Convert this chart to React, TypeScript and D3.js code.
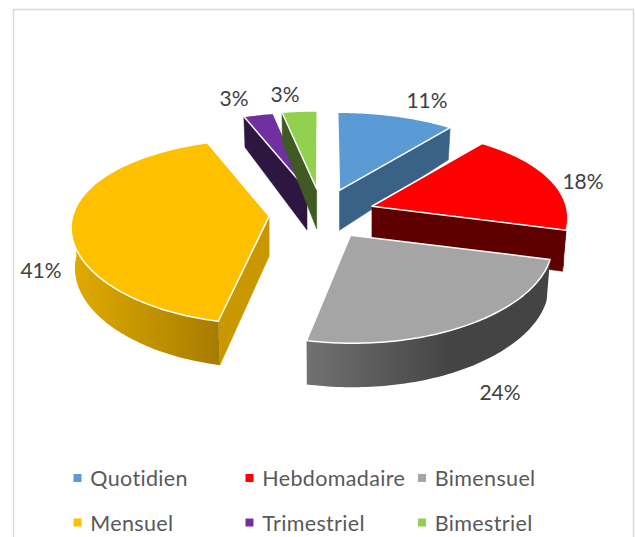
import React from "react";
import * as d3 from "d3";

const categories = ["Quotidien", "Hebdomadaire", "Bimensuel", "Mensuel", "Trimestriel", "Bimestriel"];
const values = [11, 18, 24.4, 40.5, 2.8, 3.3];
const topColors = ["#5b9bd5", "#ff0000", "#a5a5a5", "#ffc000", "#7030a0", "#92d050"];
const wallColors = ["#3a6186", "#5f0000", "#444444", "#c99700", "#2d1640", "#3f5a22"];
const paintOrder = [4, 5, 0, 3, 1, 2];
const labelAnchors = [[427, 99], [583, 180], [500, 391], [41, 269], [234, 97], [285, 93]];
const legendCols = [73.5, 245.5, 418];
const legendRows = [478, 522.5];

const W = 635, H = 537;
const CX = 322, CY = 214, R = 196, RY = 93, P = 0.16, PX = 0.1, E = 0.27, DEPTH = 40;

type Pt = [number, number];
const pie = d3.pie<number>().sort(null).startAngle(0).endAngle(2 * Math.PI);
const arcs = pie(values);

// Perspective: x scales with the absolute depth of the point, y with the depth inside the slice.
function projectPt(mid: number, t: number | null): Pt {
  const eu = E * Math.sin(mid), ev = -E * Math.cos(mid);
  const u = t === null ? 0 : Math.sin(t), v = t === null ? 0 : -Math.cos(t);
  const sx = 1 + PX * (ev + v), sy = 1 + P * v;
  return [CX + R * (eu + u) * sx, CY + RY * (ev + v * sy)];
}
function drop(p: Pt, t: number): Pt {
  const v = -Math.cos(t);
  const dy = DEPTH + (v > 0 ? 4 * v : 10 * v);
  return [p[0] + (p[0] - CX) * -0.015, p[1] + dy];
}
const line = d3.line<Pt>().x(d => d[0]).y(d => d[1]);
const arcPts = (mid: number, a: number, b: number): Pt[] => {
  const n = Math.max(2, Math.ceil((b - a) / 0.02));
  return d3.range(n + 1).map(i => projectPt(mid, a + ((b - a) * i) / n));
};

export default function App() {
  return (
    <svg width={W} height={H} style={{ position: "absolute", left: 0, top: 0, background: "#fff" }}>
      <defs>
        <linearGradient id="wall-2" gradientUnits="userSpaceOnUse" x1={308} x2={450} y1={0} y2={0}>
          <stop offset="0" stopColor="#717171" />
          <stop offset="1" stopColor="#444444" />
        </linearGradient>
        <linearGradient id="wall-3" gradientUnits="userSpaceOnUse" x1={72} x2={219} y1={0} y2={0}>
          <stop offset="0" stopColor="#e0ab00" />
          <stop offset="1" stopColor="#a67c00" />
        </linearGradient>
      </defs>
      <path d={`M13.5 537V9.5H633.5V537`} fill="none" stroke="#d9d9d9" strokeWidth={1.5} />
      {paintOrder.map(i => {
        const d = arcs[i];
        const a = d.startAngle, b = d.endAngle, mid = (a + b) / 2;
        const o = projectPt(mid, null);
        const walls: React.ReactNode[] = [];
        const wallQuad = (t: number, key: string) => {
          const p = projectPt(mid, t);
          const apexBottom: Pt = [o[0], o[1] + DEPTH];
          const pts: Pt[] = [o, p, drop(p, t), apexBottom];
          walls.push(<path key={key} d={line(pts) + "Z"} fill={wallColors[i]} stroke={wallColors[i]} strokeWidth={0.5} />);
        };
        if (i === 0 || i === 1) wallQuad(b, "end");
        if (i === 3 || i === 4 || i === 5) wallQuad(a, "start");
        const fa = Math.max(a, Math.PI / 2), fb = Math.min(b, (3 * Math.PI) / 2);
        if (fb > fa && (i === 1 || i === 2 || i === 3)) {
          const top = arcPts(mid, fa, fb);
          const bot = top.map((p, k) => drop(p, fa + ((fb - fa) * k) / (top.length - 1))).reverse();
          walls.push(
            <path key="outer" d={line(top.concat(bot)) + "Z"}
              fill={i === 2 ? "url(#wall-2)" : i === 3 ? "url(#wall-3)" : wallColors[i]} />
          );
        }
        const face = [o, ...arcPts(mid, a, b)];
        return (
          <g key={categories[i]}>
            {walls}
            <path d={line(face) + "Z"} fill={topColors[i]} stroke="#fff" strokeWidth={1.5} strokeLinejoin="round" />
          </g>
        );
      })}
      <g fontFamily="Lato, Carlito, sans-serif" fontSize={21} fill="#404040" textAnchor="middle" dominantBaseline="central">
        {values.map((v, i) => (
          <text key={i} x={labelAnchors[i][0]} y={labelAnchors[i][1]}>{Math.round(v)}%</text>
        ))}
      </g>
      <g fontFamily="Lato, Carlito, sans-serif" fontSize={21.5} letterSpacing={0.35} fill="#595959">
        {categories.map((c, i) => {
          const x = legendCols[i % 3], y = legendRows[Math.floor(i / 3)];
          return (
            <g key={c}>
              <rect x={x} y={y - 4} width={8} height={8} fill={topColors[i]} />
              <text x={x + 16.8} y={y} dominantBaseline="central">{c}</text>
            </g>
          );
        })}
      </g>
    </svg>
  );
}
